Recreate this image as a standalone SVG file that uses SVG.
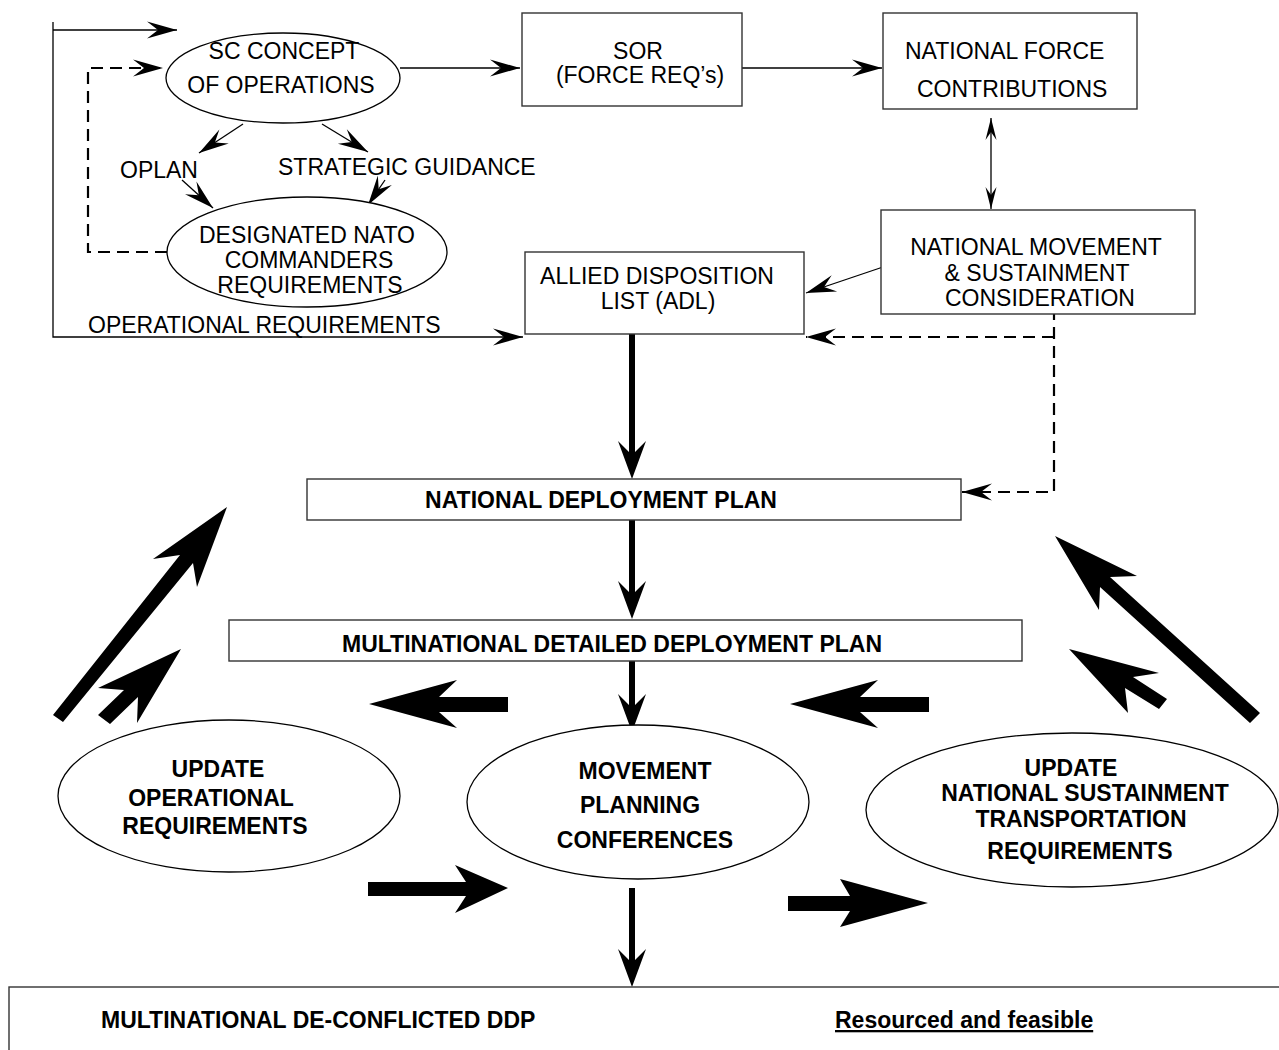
<svg xmlns="http://www.w3.org/2000/svg" width="1279" height="1050" viewBox="0 0 1279 1050">
<defs>
<style>
text{font-family:"Liberation Sans",Arial,sans-serif;font-size:23px;fill:#000}
.b{font-weight:bold}
.m{text-anchor:middle}
.box{fill:#fff;stroke:#333;stroke-width:1.4}
.ell{fill:#fff;stroke:#000;stroke-width:1.3}
.thin{fill:none;stroke:#000;stroke-width:1.3}
.dash{fill:none;stroke:#000;stroke-width:2.2;stroke-dasharray:12 7}
.thick{fill:none;stroke:#000;stroke-width:6}
.big{fill:#000;stroke:none}
</style>
<marker id="ah" markerUnits="userSpaceOnUse" markerWidth="32" markerHeight="20" refX="30" refY="9" orient="auto" overflow="visible"><path d="M30,9 L0,0.5 L11,9 L0,17.5 Z" fill="#000"/></marker>
<marker id="ahs" markerUnits="userSpaceOnUse" markerWidth="24" markerHeight="14" refX="22" refY="6" orient="auto-start-reverse" overflow="visible"><path d="M22,6 L0,0.5 L8,6 L0,11.5 Z" fill="#000"/></marker>
<marker id="ahT" markerUnits="userSpaceOnUse" markerWidth="40" markerHeight="30" refX="18" refY="14" orient="auto" overflow="visible"><path d="M38,14 L0,0 L14,14 L0,28 Z" fill="#000"/></marker>
</defs>

<g id="connectors">
<line class="thin" x1="53" y1="30" x2="177" y2="30" marker-end="url(#ah)"/>
<path class="thin" d="M53,22 V337 H523" marker-end="url(#ah)"/>
<line class="thin" x1="400" y1="68" x2="520" y2="68" marker-end="url(#ah)"/>
<line class="thin" x1="742" y1="68" x2="882" y2="68" marker-end="url(#ah)"/>
<line class="thin" x1="243" y1="124" x2="199" y2="153" marker-end="url(#ah)"/>
<line class="thin" x1="322" y1="124" x2="368" y2="152" marker-end="url(#ah)"/>
<line class="thin" x1="182" y1="180" x2="213" y2="208" marker-end="url(#ah)"/>
<line class="thin" x1="385" y1="180" x2="368" y2="205" marker-end="url(#ah)"/>
<line class="thin" x1="883" y1="267" x2="806" y2="293" marker-end="url(#ah)"/>
<line class="thin" x1="991" y1="118" x2="991" y2="209" marker-start="url(#ahs)" marker-end="url(#ahs)"/>
<path class="dash" d="M167,252 H88 V68 H163" marker-end="url(#ah)"/>
<path class="dash" d="M1054,308 V492 H962" marker-end="url(#ah)"/>
<path class="dash" d="M1054,337 H806" marker-end="url(#ah)"/>
<line class="thick" x1="632" y1="334" x2="632" y2="459" marker-end="url(#ahT)"/>
<line class="thick" x1="632" y1="520" x2="632" y2="599" marker-end="url(#ahT)"/>
<line class="thick" x1="632" y1="661" x2="632" y2="712" marker-end="url(#ahT)"/>
<line class="thick" x1="632" y1="888" x2="632" y2="967" marker-end="url(#ahT)"/>
<polygon class="big" points="53,715 180,555 153,559 227,507 197,587 193,563 63,722"/>
<polygon class="big" points="98,715 124,690 98,688 181,649 137,723 138,697 110,724"/>
<polygon class="big" points="1055,536 1137,576 1110,577 1260,713 1250,723 1100,587 1099,610"/>
<polygon class="big" points="1069,649 1159,673 1133,677 1167,699 1159,709 1125,688 1128,713"/>
<polygon class="big" points="369,704 457,680 439,697 508,697 508,712 439,712 457,728"/>
<polygon class="big" points="790,704 878,680 860,697 929,697 929,712 860,712 878,728"/>
<polygon class="big" points="368,882 466,882 455,865 508,888 455,913 466,896 368,896"/>
<polygon class="big" points="788,896 850,896 840,879 928,903 840,927 850,911 788,911"/>
</g>

<g id="sc-concept">
<ellipse class="ell" cx="283" cy="78" rx="117" ry="45"/>
<text class="m" x="284" y="59">SC CONCEPT</text>
<text class="m" x="281" y="93">OF OPERATIONS</text>
</g>

<g id="labels">
<text x="120" y="178">OPLAN</text>
<text x="278" y="175">STRATEGIC GUIDANCE</text>
<text x="88" y="333">OPERATIONAL REQUIREMENTS</text>
</g>

<g id="designated">
<ellipse class="ell" cx="307" cy="252" rx="140" ry="55"/>
<text class="m" x="307" y="243">DESIGNATED NATO</text>
<text class="m" x="309" y="268">COMMANDERS</text>
<text class="m" x="310" y="293">REQUIREMENTS</text>
</g>

<g id="sor">
<rect class="box" x="522" y="13" width="220" height="93"/>
<text class="m" x="638" y="59">SOR</text>
<text class="m" x="640" y="83">(FORCE REQ’s)</text>
</g>

<g id="national-force">
<rect class="box" x="883" y="13" width="254" height="96"/>
<text x="905" y="59">NATIONAL FORCE</text>
<text x="917" y="97">CONTRIBUTIONS</text>
</g>

<g id="national-movement">
<rect class="box" x="881" y="210" width="314" height="104"/>
<text class="m" x="1036" y="255">NATIONAL MOVEMENT</text>
<text class="m" x="1037" y="281">&amp; SUSTAINMENT</text>
<text class="m" x="1040" y="306">CONSIDERATION</text>
</g>

<g id="adl">
<rect class="box" x="525" y="252" width="279" height="82"/>
<text class="m" x="657" y="284">ALLIED DISPOSITION</text>
<text class="m" x="658" y="309">LIST (ADL)</text>
</g>

<g id="ndp">
<rect class="box" x="307" y="479" width="654" height="41"/>
<text class="b m" x="601" y="508">NATIONAL DEPLOYMENT PLAN</text>
</g>

<g id="mddp">
<rect class="box" x="229" y="620" width="793" height="41"/>
<text class="b m" x="612" y="652">MULTINATIONAL DETAILED DEPLOYMENT PLAN</text>
</g>

<g id="update-operational">
<ellipse class="ell" cx="229" cy="796" rx="171" ry="76"/>
<text class="b m" x="218" y="777">UPDATE</text>
<text class="b m" x="211" y="806">OPERATIONAL</text>
<text class="b m" x="215" y="834">REQUIREMENTS</text>
</g>

<g id="movement-planning">
<ellipse class="ell" cx="638" cy="802" rx="171" ry="77"/>
<text class="b m" x="645" y="779">MOVEMENT</text>
<text class="b m" x="640" y="813">PLANNING</text>
<text class="b m" x="645" y="848">CONFERENCES</text>
</g>

<g id="update-national">
<ellipse class="ell" cx="1072" cy="810" rx="206" ry="77"/>
<text class="b m" x="1071" y="776">UPDATE</text>
<text class="b m" x="1085" y="801">NATIONAL SUSTAINMENT</text>
<text class="b m" x="1081" y="827">TRANSPORTATION</text>
<text class="b m" x="1080" y="859">REQUIREMENTS</text>
</g>

<g id="deconflicted">
<rect class="box" x="9" y="987" width="1290" height="100"/>
<text class="b" x="101" y="1028">MULTINATIONAL DE-CONFLICTED DDP</text>
<text class="b" x="835" y="1028" text-decoration="underline">Resourced and feasible</text>
</g>
</svg>
